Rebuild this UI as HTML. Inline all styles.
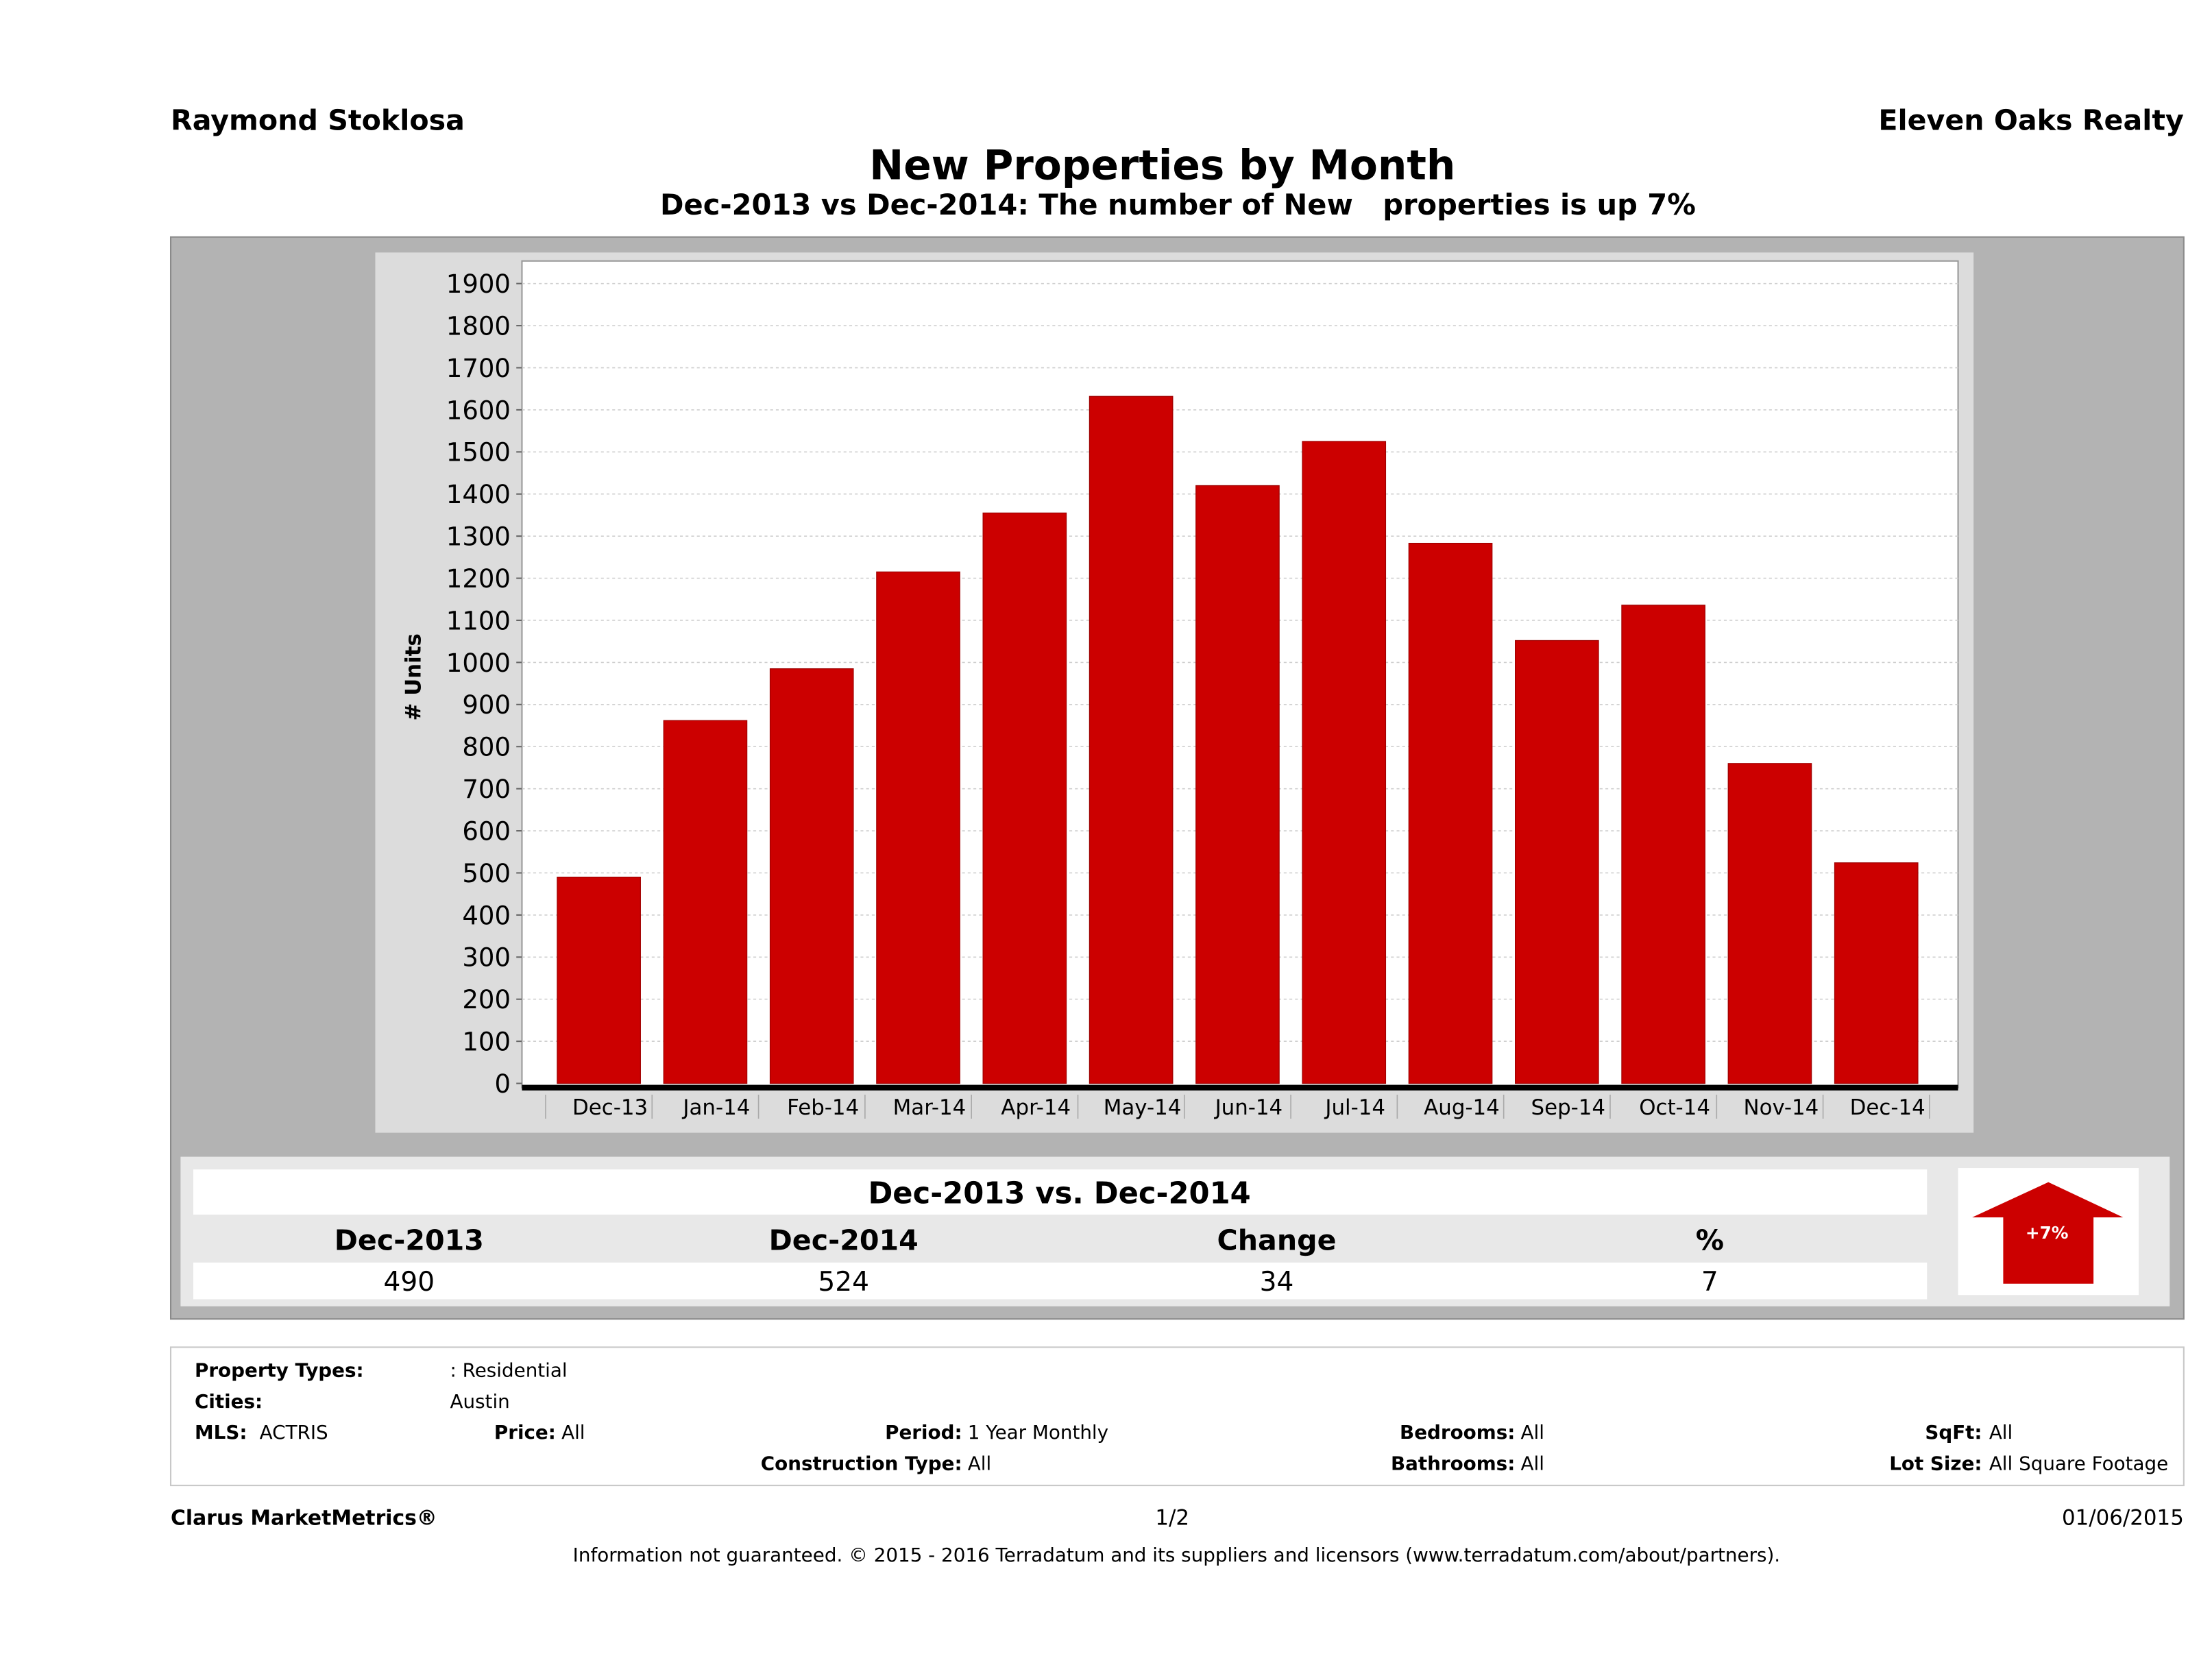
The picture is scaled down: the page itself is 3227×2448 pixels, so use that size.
<!DOCTYPE html>
<html><head><meta charset="utf-8"><style>
html,body{margin:0;padding:0;background:#fff}
svg{display:block}
text{font-family:"DejaVu Sans","Liberation Sans",sans-serif;fill:#000}
</style></head><body>
<svg id="root" width="3227" height="2448" viewBox="0 0 1568 1189.5" preserveAspectRatio="none" xmlns="http://www.w3.org/2000/svg">
<rect width="1568" height="1190" fill="#fff"/>
<text x="121" y="92" font-size="20" font-weight="bold">Raymond Stoklosa</text>
<text x="1548" y="92" font-size="20" font-weight="bold" text-anchor="end">Eleven Oaks Realty</text>
<text x="824" y="127" font-size="29" font-weight="bold" text-anchor="middle">New Properties by Month</text>
<text x="835" y="152" font-size="20.2" font-weight="bold" text-anchor="middle" xml:space="preserve">Dec-2013 vs Dec-2014: The number of New   properties is up 7%</text>

<rect x="121" y="168" width="1427" height="767" fill="#b3b3b3" stroke="#8a8a8a" stroke-width="1"/>
<rect x="266" y="179" width="1133" height="624" fill="#dcdcdc"/>
<rect x="370" y="185" width="1018" height="586" fill="#fff" stroke="#999" stroke-width="1"/>
<g id="grid"></g>
<g id="yticks"></g>
<g id="bars"></g>
<g id="xticks"></g>
<text transform="translate(298,480) rotate(-90)" font-size="15" font-weight="bold" text-anchor="middle"># Units</text>

<rect x="128" y="820" width="1410" height="106" fill="#e8e8e8"/>
<rect x="137" y="829" width="1229" height="32" fill="#fff"/>
<text x="751" y="853" font-size="21" font-weight="bold" text-anchor="middle">Dec-2013 vs. Dec-2014</text>
<rect x="137" y="863" width="1229" height="30" fill="#e8e8e8"/>
<rect x="137" y="895" width="1229" height="26" fill="#fff"/>
<text x="290" y="886" font-size="20" font-weight="bold" text-anchor="middle">Dec-2013</text>
<text x="598" y="886" font-size="20" font-weight="bold" text-anchor="middle">Dec-2014</text>
<text x="905" y="886" font-size="20" font-weight="bold" text-anchor="middle">Change</text>
<text x="1212" y="886" font-size="20" font-weight="bold" text-anchor="middle">%</text>
<text x="290" y="915" font-size="19" text-anchor="middle">490</text>
<text x="598" y="915" font-size="19" text-anchor="middle">524</text>
<text x="905" y="915" font-size="19" text-anchor="middle">34</text>
<text x="1212" y="915" font-size="19" text-anchor="middle">7</text>
<rect x="1388" y="828" width="128" height="90" fill="#fff"/>
<polygon points="1452,838 1505,863 1484,863 1484,910 1420,910 1420,863 1398,863" fill="#cc0000"/>
<text x="1451" y="878" font-size="12" font-weight="bold" text-anchor="middle" style="fill:#fff">+7%</text>

<rect x="121" y="955" width="1427" height="98" fill="#fff" stroke="#c8c8c8" stroke-width="1"/>
<g font-size="13.5">
<text x="138" y="976" font-weight="bold">Property Types:</text>
<text x="319" y="976">: Residential</text>
<text x="138" y="998" font-weight="bold">Cities:</text>
<text x="319" y="998">Austin</text>
<text x="138" y="1020" font-weight="bold">MLS:</text>
<text x="184" y="1020">ACTRIS</text>
<text x="394" y="1020" font-weight="bold" text-anchor="end">Price:</text>
<text x="398" y="1020">All</text>
<text x="682" y="1020" font-weight="bold" text-anchor="end">Period:</text>
<text x="686" y="1020">1 Year Monthly</text>
<text x="1074" y="1020" font-weight="bold" text-anchor="end">Bedrooms:</text>
<text x="1078" y="1020">All</text>
<text x="1405" y="1020" font-weight="bold" text-anchor="end">SqFt:</text>
<text x="1410" y="1020">All</text>
<text x="682" y="1042" font-weight="bold" text-anchor="end">Construction Type:</text>
<text x="686" y="1042">All</text>
<text x="1074" y="1042" font-weight="bold" text-anchor="end">Bathrooms:</text>
<text x="1078" y="1042">All</text>
<text x="1405" y="1042" font-weight="bold" text-anchor="end">Lot Size:</text>
<text x="1410" y="1042">All Square Footage</text>
</g>
<text x="121" y="1081" font-size="14.5" font-weight="bold">Clarus MarketMetrics®</text>
<text x="831" y="1081" font-size="15" text-anchor="middle">1/2</text>
<text x="1548" y="1081" font-size="15" text-anchor="end">01/06/2015</text>
<text x="834" y="1107" font-size="13.5" text-anchor="middle">Information not guaranteed. © 2015 - 2016 Terradatum and its suppliers and licensors (www.terradatum.com/about/partners).</text>
</svg>
<script>
const categories = ["Dec-13","Jan-14","Feb-14","Mar-14","Apr-14","May-14","Jun-14","Jul-14","Aug-14","Sep-14","Oct-14","Nov-14","Dec-14"];
const newListings = [490,862,985,1215,1355,1632,1420,1525,1283,1052,1136,760,524];
const yTicks = [0,100,200,300,400,500,600,700,800,900,1000,1100,1200,1300,1400,1500,1600,1700,1800,1900];

const NS = "http://www.w3.org/2000/svg";
const plotL = 370, plotR = 1388;
function yScale(v){ return 768 - v * (768 - 201) / 1900; }
const band = 75.46, firstCenter = 424.5;
function xCenter(i){ return firstCenter + i * band; }
function mk(tag, attrs, parent){ const e = document.createElementNS(NS, tag); for (const k in attrs) e.setAttribute(k, attrs[k]); parent.appendChild(e); return e; }

const grid = document.getElementById('grid'), yt = document.getElementById('yticks');
yTicks.forEach(t => {
  const y = yScale(t);
  if (t > 0) {
    const g = mk('line', {x1: plotL, x2: plotR, y1: y, y2: y, stroke: '#cfcfcf', 'stroke-width': 0.8, 'stroke-dasharray': '2,2'}, grid);
    
    
  }
  const tk = mk('line', {x1: plotL - 4, x2: plotL, y1: y, y2: y, stroke: '#666'}, yt);
  
  
  const tx = mk('text', {x: plotL - 8, y: y + 6.5, 'font-size': 18, 'text-anchor': 'end'}, yt);
  tx.textContent = t;
  
  
});

const bars = document.getElementById('bars');
newListings.forEach((v, i) => {
  const y = yScale(v);
  const r = mk('rect', {x: xCenter(i) - 29.5, y: y, width: 59, height: yScale(0) - y, fill: '#cc0000', stroke: '#a00000', 'stroke-width': 0.6}, bars);
  
  
});

const xt = document.getElementById('xticks');
const axis = mk('rect', {x: plotL, y: 769, width: plotR - plotL, height: 4, fill: '#000'}, xt);


categories.forEach((c, i) => {
  const sx = xCenter(i) - band / 2;
  const sep = mk('line', {x1: sx, x2: sx, y1: 776, y2: 793, stroke: '#aaa', 'stroke-width': 0.8}, xt);
  
  
  const tx = mk('text', {x: xCenter(i) + 8, y: 790, 'font-size': 15, 'text-anchor': 'middle'}, xt);
  tx.textContent = c;
  
  
});
const lastSep = xCenter(categories.length - 1) + band / 2;
const ls = mk('line', {x1: lastSep, x2: lastSep, y1: 776, y2: 793, stroke: '#aaa', 'stroke-width': 0.8}, xt);


</script>
</body></html>
